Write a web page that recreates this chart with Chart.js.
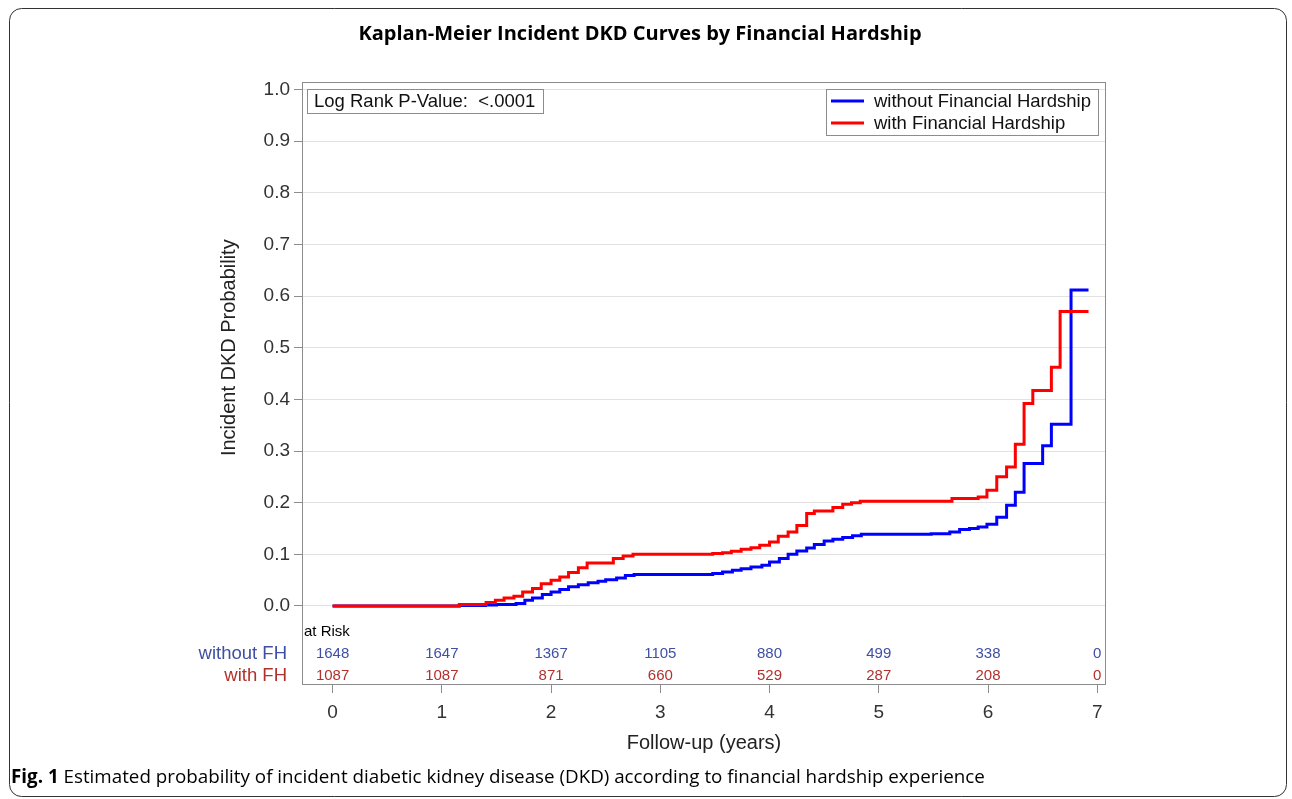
<!DOCTYPE html>
<html>
<head>
<meta charset="utf-8">
<script src="https://cdn.jsdelivr.net/npm/chart.js@4"></script>
<style>
  html, body { margin: 0; padding: 0; background: #fff; }
</style>
</head>
<body>
<canvas id="km-chart" width="1292" height="799"></canvas>
<script>
// step times (years) and cumulative incidence
const withoutTimes = [0, 1.16, 1.40, 1.50, 1.68, 1.76, 1.83, 1.92, 2.00, 2.08, 2.16, 2.25, 2.34, 2.43, 2.50, 2.60, 2.68, 2.76,
    3.48, 3.57, 3.66, 3.74, 3.83, 3.93, 4.00, 4.09, 4.17, 4.25, 4.34, 4.41, 4.50, 4.58, 4.67, 4.76, 4.84,
    5.48, 5.65, 5.74, 5.83, 5.91, 5.99, 6.08, 6.17, 6.25, 6.33, 6.50, 6.58, 6.76, 6.92];
const withoutProb = [0, 0.001, 0.002, 0.003, 0.005, 0.011, 0.0155, 0.022, 0.027, 0.032, 0.037, 0.041, 0.045, 0.048, 0.051, 0.054, 0.059, 0.061,
    0.063, 0.066, 0.069, 0.072, 0.0756, 0.079, 0.085, 0.092, 0.100, 0.1066, 0.1124, 0.119, 0.126, 0.129, 0.1325, 0.136, 0.139,
    0.140, 0.143, 0.148, 0.150, 0.153, 0.158, 0.172, 0.195, 0.220, 0.276, 0.310, 0.352, 0.612, 0.612];

const withTimes = [0, 1.16, 1.405, 1.49, 1.57, 1.66, 1.74, 1.83, 1.91, 2.00, 2.08, 2.16, 2.25, 2.33, 2.57, 2.66, 2.75,
    3.48, 3.57, 3.65, 3.74, 3.83, 3.91, 4.00, 4.08, 4.17, 4.25, 4.34, 4.41, 4.58, 4.67, 4.75, 4.83,
    5.67, 5.91, 5.99, 6.08, 6.17, 6.25, 6.33, 6.41, 6.58, 6.66, 6.92];
const withProb = [0, 0.003, 0.0066, 0.011, 0.0155, 0.019, 0.027, 0.034, 0.043, 0.050, 0.056, 0.065, 0.074, 0.083, 0.092, 0.097, 0.100,
    0.1015, 0.103, 0.106, 0.110, 0.1125, 0.1175, 0.124, 0.135, 0.143, 0.156, 0.179, 0.184, 0.1906, 0.197, 0.200, 0.203,
    0.208, 0.211, 0.224, 0.250, 0.269, 0.313, 0.392, 0.417, 0.462, 0.570, 0.570];

const riskTimes = [0, 1, 2, 3, 4, 5, 6, 7];
const riskWithout = [1648, 1647, 1367, 1105, 880, 499, 338, 0];
const riskWith = [1087, 1087, 871, 660, 529, 287, 208, 0];

const xTicks = [0, 1, 2, 3, 4, 5, 6, 7];
const yTicks = [0, 0.1, 0.2, 0.3, 0.4, 0.5, 0.6, 0.7, 0.8, 0.9, 1.0];

const FONT = '"Liberation Sans", Arial, sans-serif';

function toPoints(times, probs) {
    return times.map((t, i) => ({ x: t, y: probs[i] }));
}

const pagePlugin = {
    id: 'page',
    beforeDraw(chart) {
        const { ctx, width, height } = chart;
        ctx.save();
        ctx.fillStyle = '#fff';
        ctx.fillRect(0, 0, width, height);
        // outer rounded border
        ctx.strokeStyle = '#333';
        ctx.lineWidth = 1;
        ctx.beginPath();
        ctx.roundRect(9.5, 8.5, 1277, 788, 12);
        ctx.stroke();
        // title
        ctx.fillStyle = '#000';
        ctx.font = 'bold 20px "Open Sans", sans-serif';
        ctx.textAlign = 'center';
        ctx.textBaseline = 'middle';
        ctx.fillText('Kaplan-Meier Incident DKD Curves by Financial Hardship', 640, 34);
        // caption
        ctx.textAlign = 'left';
        ctx.font = 'bold 18.8px "Open Sans", sans-serif';
        ctx.fillText('Fig. 1', 11, 778);
        const w = ctx.measureText('Fig. 1 ').width;
        ctx.font = '18.8px "Open Sans", sans-serif';
        ctx.fillText('Estimated probability of incident diabetic kidney disease (DKD) according to financial hardship experience', 11 + w, 778);
        ctx.restore();
    },
    afterDraw(chart) {
        const { ctx, chartArea, scales: { x, y } } = chart;
        ctx.save();
        // plot frame
        ctx.strokeStyle = '#8c8c8c';
        ctx.lineWidth = 1;
        ctx.strokeRect(chartArea.left + 0.5, chartArea.top + 0.5, chartArea.width - 1, chartArea.height - 1);

        // y axis title, centred on the 0..1 range
        ctx.fillStyle = '#222';
        ctx.font = '20px ' + FONT;
        ctx.textAlign = 'center';
        ctx.textBaseline = 'middle';
        ctx.translate(229, (y.getPixelForValue(0) + y.getPixelForValue(1)) / 2);
        ctx.rotate(-Math.PI / 2);
        ctx.fillText('Incident DKD Probability', 0, 0);
        ctx.restore();

        ctx.save();
        ctx.font = '18.5px ' + FONT;
        ctx.textBaseline = 'middle';
        // p-value box
        ctx.strokeStyle = '#8c8c8c';
        ctx.strokeRect(307.5, 89.5, 236, 24);
        ctx.fillStyle = '#111';
        ctx.textAlign = 'left';
        ctx.fillText('Log Rank P-Value:  <.0001', 314, 102);

        // legend box
        ctx.strokeRect(826.5, 89.5, 272, 46);
        chart.data.datasets.forEach((ds, i) => {
            const ly = 101 + i * 22;
            ctx.strokeStyle = ds.borderColor;
            ctx.lineWidth = 3;
            ctx.beginPath();
            ctx.moveTo(831, ly);
            ctx.lineTo(864, ly);
            ctx.stroke();
            ctx.fillStyle = '#111';
            ctx.fillText(ds.label, 874, ly + 1);
        });

        // number at risk table
        const rowTop = chartArea.bottom - 53;
        ctx.font = '15px ' + FONT;
        ctx.fillStyle = '#000';
        ctx.fillText('at Risk', chartArea.left + 2, rowTop);
        const rows = [
            { label: 'without FH', values: riskWithout, color: '#3f4fa3' },
            { label: 'with FH', values: riskWith, color: '#b3302d' }
        ];
        rows.forEach((row, r) => {
            const ry = rowTop + 22 * (r + 1);
            ctx.fillStyle = row.color;
            ctx.font = '18.5px ' + FONT;
            ctx.textAlign = 'right';
            ctx.fillText(row.label, 287, ry);
            ctx.font = '15px ' + FONT;
            ctx.textAlign = 'center';
            riskTimes.forEach((t, i) => {
                ctx.fillText(String(row.values[i]), x.getPixelForValue(t), ry);
            });
        });
        ctx.restore();
    }
};

const ctx = document.getElementById('km-chart').getContext('2d');

new Chart(ctx, {
    type: 'scatter',
    data: {
        datasets: [{
            label: 'without Financial Hardship',
            data: toPoints(withoutTimes, withoutProb),
            borderColor: '#0000ff',
            backgroundColor: '#0000ff',
            borderWidth: 3,
            showLine: true,
            stepped: 'before',
            pointRadius: 0,
            order: 1
        }, {
            label: 'with Financial Hardship',
            data: toPoints(withTimes, withProb),
            borderColor: '#ff0000',
            backgroundColor: '#ff0000',
            borderWidth: 3,
            showLine: true,
            stepped: 'before',
            pointRadius: 0,
            order: 0
        }]
    },
    options: {
        responsive: false,
        animation: false,
        layout: {
            padding: { left: 0, top: 82, right: 186, bottom: 40 }
        },
        scales: {
            x: {
                type: 'linear',
                min: -0.28,
                max: 7.08,
                afterBuildTicks: scale => { scale.ticks = xTicks.map(v => ({ value: v })); },
                afterFit: scale => { scale.height = 74; },
                grid: { drawOnChartArea: false, drawTicks: true, tickLength: 8, tickColor: '#8c8c8c' },
                border: { display: false },
                ticks: {
                    font: { family: FONT, size: 19 },
                    color: '#333',
                    padding: 8,
                    maxRotation: 0,
                    autoSkip: false
                },
                title: {
                    display: true,
                    text: 'Follow-up (years)',
                    font: { family: FONT, size: 20 },
                    color: '#222',
                    padding: { top: 0, bottom: 4 }
                }
            },
            y: {
                min: -0.153,
                max: 1.0145,
                afterBuildTicks: scale => { scale.ticks = yTicks.map(v => ({ value: v })); },
                afterFit: scale => { scale.width = 302; },
                grid: { color: '#e2e2e2', drawTicks: true, tickLength: 8, tickColor: '#8c8c8c' },
                border: { display: false },
                ticks: {
                    font: { family: FONT, size: 19 },
                    color: '#333',
                    padding: 4,
                    callback: v => v.toFixed(1)
                }
            }
        },
        plugins: {
            legend: { display: false },
            tooltip: { enabled: false }
        }
    },
    plugins: [pagePlugin]
});
</script>
</body>
</html>
